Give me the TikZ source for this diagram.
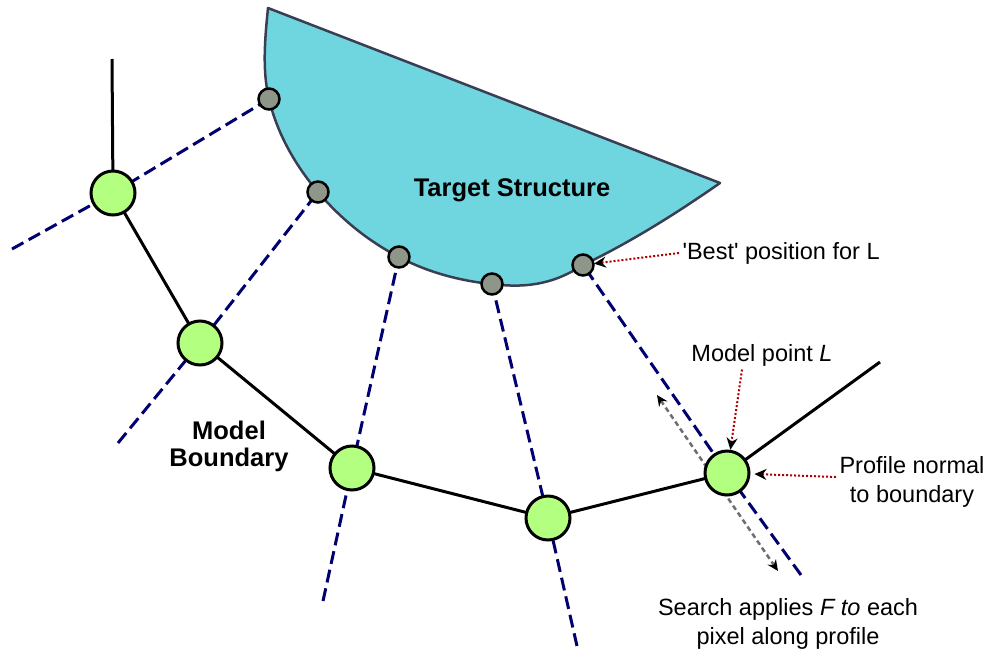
\documentclass[tikz,border=0pt]{standalone}
\usepackage{fontspec}
\setmainfont{Liberation Sans}
\usepackage{tikz}
\usetikzlibrary{arrows.meta}
\definecolor{targetfill}{RGB}{111,214,224}
\definecolor{targetline}{RGB}{58,62,82}
\definecolor{modelgreen}{RGB}{179,255,128}
\definecolor{bestgray}{RGB}{142,150,138}
\definecolor{profblue}{RGB}{0,0,112}
\definecolor{hintred}{RGB}{175,0,0}
\definecolor{searchgray}{RGB}{110,110,110}
\tikzstyle{modelpt} = [draw=black, fill=modelgreen, circle, line width=3pt, minimum size=44pt, inner sep=0pt]
\tikzstyle{bestpt} = [draw=black, fill=bestgray, circle, line width=2.5pt, minimum size=21pt, inner sep=0pt]
\tikzstyle{edge} = [draw=black, line width=3pt]
\tikzstyle{profile} = [draw=profblue, line width=3pt, dash pattern=on 13pt off 6pt]
\tikzstyle{hint} = [draw=hintred, line width=2pt, dash pattern=on 2pt off 2pt, -{Stealth[black, length=12pt, width=11pt]}]
\tikzstyle{search} = [draw=searchgray, line width=2.5pt, dash pattern=on 5pt off 3.5pt, {Stealth[black, length=11pt, width=10pt]}-{Stealth[black, length=11pt, width=10pt]}]
\newcommand{\lbl}[1]{\fontsize{23.5}{29}\selectfont #1}
\newcommand{\blbl}[1]{\fontsize{25.5}{27}\selectfont\bfseries #1}

\begin{document}
\begin{tikzpicture}[x=1pt, y=-1pt]
\useasboundingbox (0,0) rectangle (990,656);
% target structure
\coordinate (b1) at (269,99);
\coordinate (b2) at (318,192);
\coordinate (b3) at (399,257);
\coordinate (b4) at (492,284);
\coordinate (b5) at (583,265);
\draw[fill=targetfill, draw=targetline, line width=2.5pt, line join=round]
    (268,8) .. controls (265,38) and (262,70) .. (b1)
    .. controls (277,133) and (295,165) .. (b2)
    .. controls (341,219) and (368,241) .. (b3)
    .. controls (427,272) and (460,281) .. (b4)
    .. controls (530,289) and (557,282) .. (b5)
    .. controls (631,242) and (677,213) .. (720,183) -- cycle;
\node[font=\blbl{}] (tgt) at (512,190) {Target Structure};

% model points
\coordinate (m1) at (113,193);
\coordinate (m2) at (200,343);
\coordinate (m3) at (352,468);
\coordinate (m4) at (548,518);
\coordinate (m5) at (727,473);

% profiles
\coordinate (s1) at (12,249);
\coordinate (s2) at (118,443);
\coordinate (s3) at (323,601);
\coordinate (s4) at (577,646);
\coordinate (s5) at (801,575);
\foreach \i in {1,...,5}
    \draw[profile] (s\i) -- (m\i) -- (b\i);

% boundary
\coordinate (top) at (112,59);
\coordinate (right) at (880,362);
\draw[edge] (top) -- (m1) -- (m2) -- (m3) -- (m4) -- (m5) -- (right);

% search along profile
\coordinate (sa) at (657,395);
\coordinate (sb) at (778,571);
\draw[search] (sa) -- (sb);

\foreach \i in {1,...,5} {
    \node[modelpt] (M\i) at (m\i) {};
    \node[bestpt] (B\i) at (b\i) {};
}

% labels
\node[align=center, font=\blbl{}] (bnd) at (229,446) {Model\\Boundary};
\node[anchor=west, font=\lbl{}] (best) at (679,253) {\textquotesingle Best\textquotesingle{} position for L};
\node[font=\lbl{}] (lpt) at (762,355) {Model point \textit{L}};
\node[align=center, font=\lbl{}] (prof) at (912,482) {Profile normal\\to boundary};
\node[align=center, font=\lbl{}] (srch) at (788,624) {Search applies \textit{F to} each\\pixel along profile};

\draw[hint, shorten >=11pt] (best.west) -- (B5.center);
\draw[hint] ([xshift=-20pt]lpt.south) -- (M5);
\draw[hint, shorten >=4pt] ([yshift=5pt]prof.west) -- (M5);
\end{tikzpicture}
\end{document}
